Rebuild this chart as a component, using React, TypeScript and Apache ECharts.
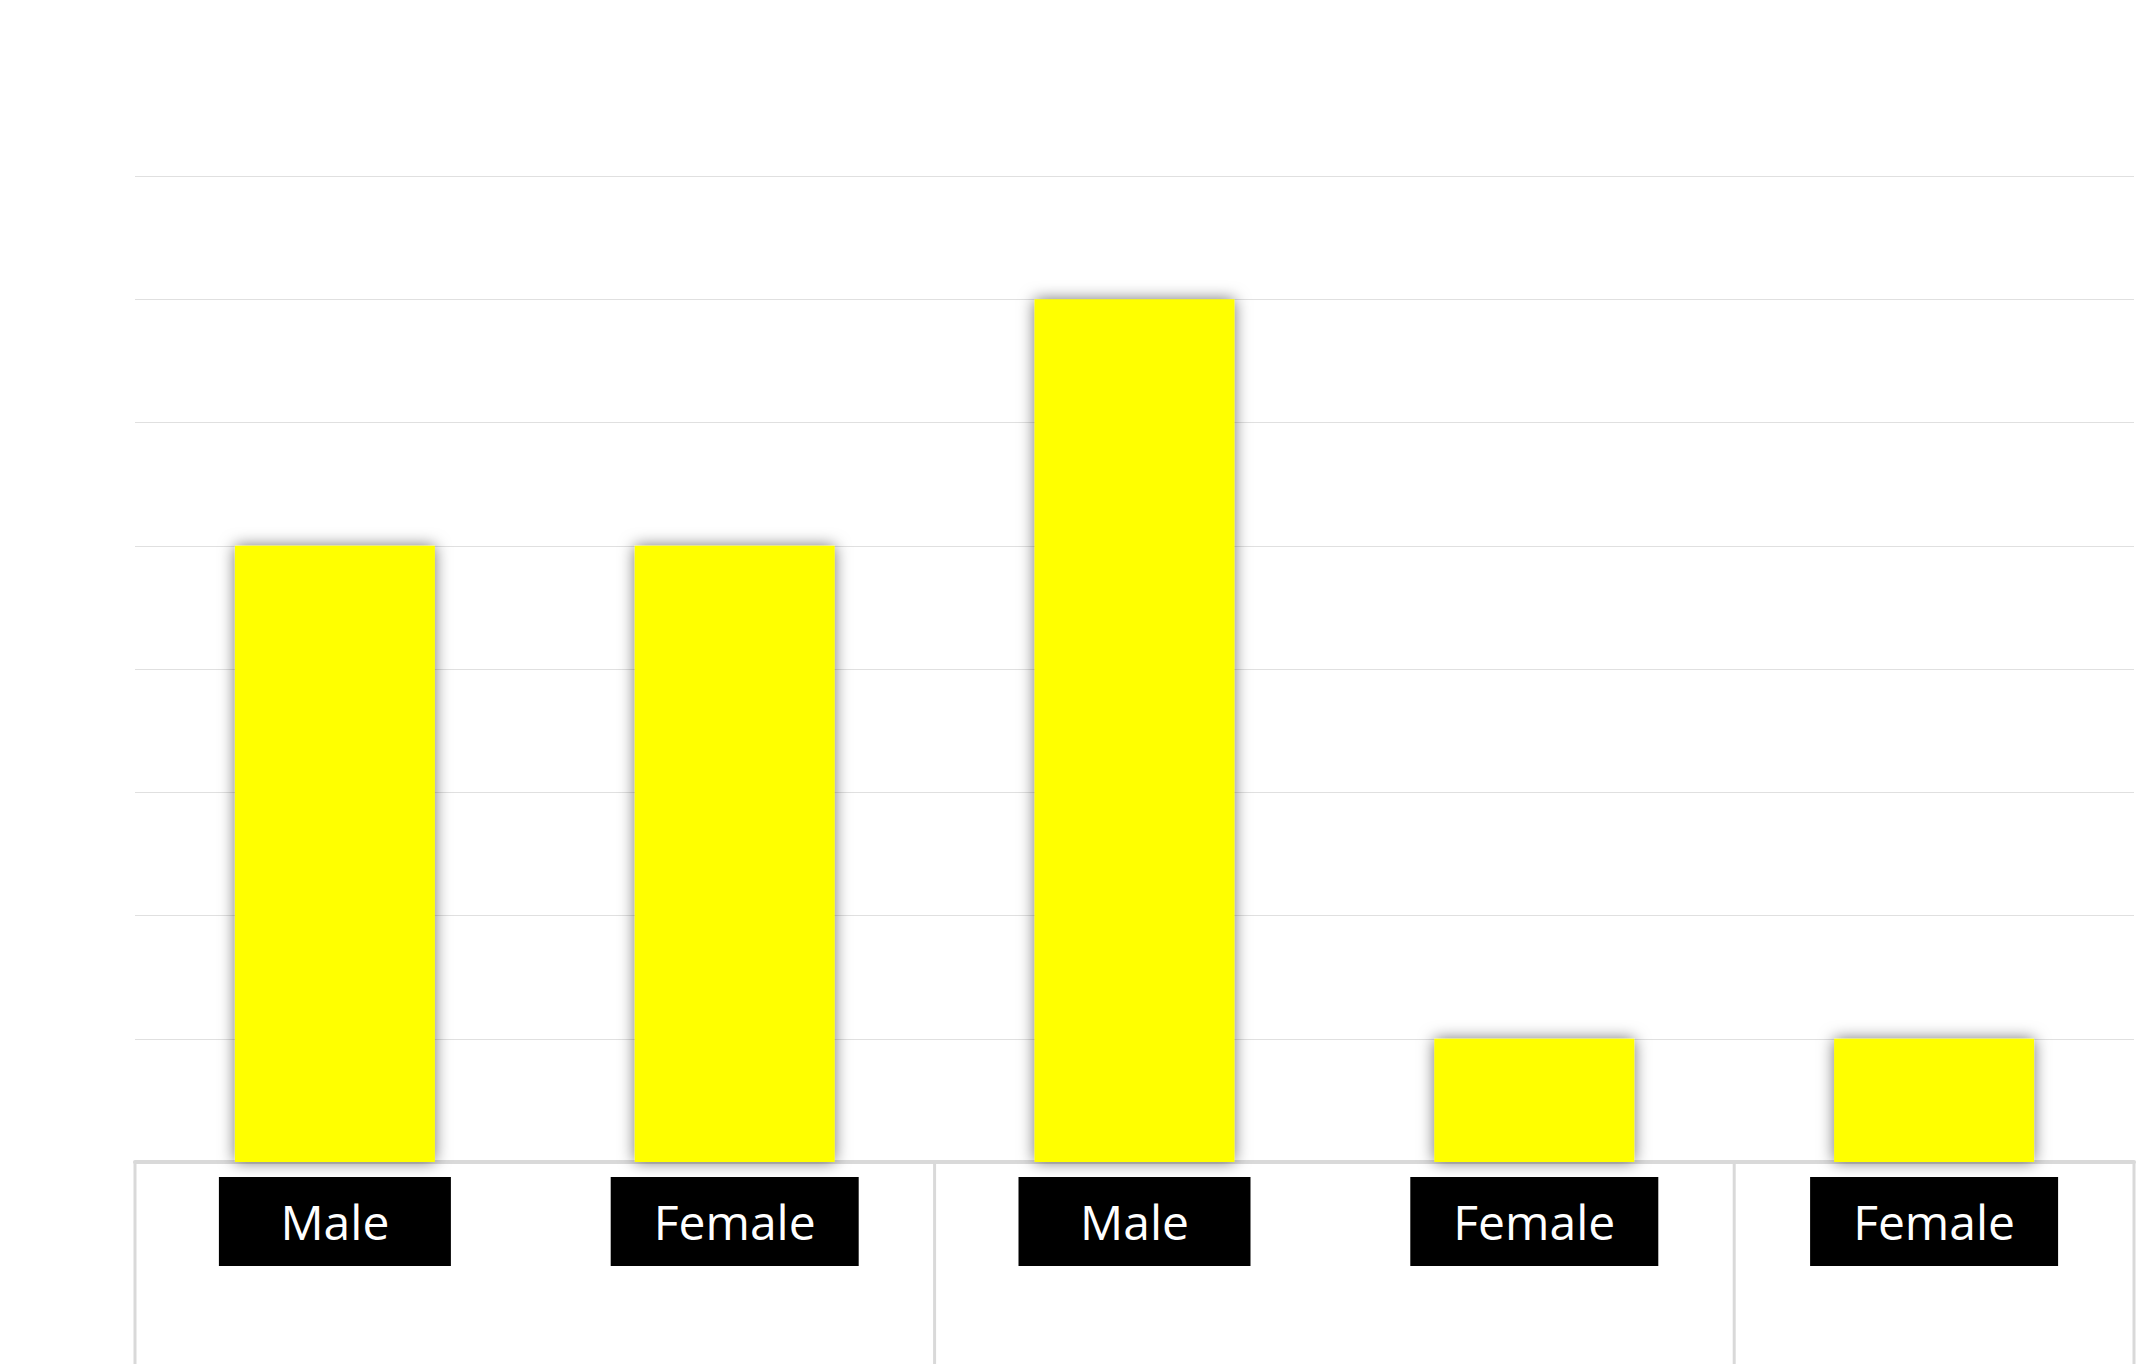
import React, { useEffect, useRef } from "react";
import * as echarts from "echarts";

const categories = ["Male", "Female", "Male", "Female", "Female"];
const values = [5, 5, 7, 1, 1];
const groupSizes = [2, 2, 1];
const yMax = 8;
const yInterval = 1;

export default function App() {
  const ref = useRef<HTMLDivElement>(null);
  useEffect(() => {
    document.body.style.margin = "0";
    const el = ref.current!;
    const chart = echarts.init(el, null, { renderer: "svg" });
    const option: any = {
      animation: false,
      backgroundColor: "#ffffff",
      grid: { left: 135, right: 7, top: 176, bottom: 202, containLabel: false },
      xAxis: {
        type: "category",
        data: categories,
        axisLine: { show: true, lineStyle: { color: "#d9d9d9", width: 4 } },
        axisTick: { show: false },
        axisLabel: {
          interval: 0,
          margin: 15,
          formatter: (v: string) => (v === "Male" ? `{m|${v}}` : `{f|${v}}`),
          rich: {
            m: {
              width: 232,
              height: 89,
              lineHeight: 89,
              align: "center",
              backgroundColor: "#000000",
              color: "#ffffff",
              fontSize: 48,
              fontFamily: "Open Sans",
            },
            f: {
              width: 248,
              height: 89,
              lineHeight: 89,
              align: "center",
              backgroundColor: "#000000",
              color: "#ffffff",
              fontSize: 48,
              fontFamily: "Open Sans",
            },
          },
        },
      },
      yAxis: {
        type: "value",
        min: 0,
        max: yMax,
        interval: yInterval,
        axisLabel: { show: false },
        axisLine: { show: false },
        axisTick: { show: false },
        splitLine: { show: true, lineStyle: { color: "#e0e0e0", width: 1 } },
      },
      series: [
        {
          type: "bar",
          data: values,
          barWidth: "50%",
          itemStyle: {
            color: "#ffff00",
            shadowBlur: 16,
            shadowColor: "rgba(0,0,0,0.55)",
            shadowOffsetX: 0,
            shadowOffsetY: 0,
          },
        },
      ],
    };
    chart.setOption(option);

    // group separators via the axis scale
    const px = (i: number) => chart.convertToPixel({ xAxisIndex: 0 }, i) as number;
    const baseY = chart.convertToPixel({ yAxisIndex: 0 }, 0) as number;
    const band = px(1) - px(0);
    const bounds: number[] = [px(0) - band / 2];
    let idx = 0;
    groupSizes.forEach((s) => {
      idx += s;
      bounds.push(px(idx - 1) + band / 2);
    });
    const graphics = bounds.map((x) => ({
      type: "line",
      shape: { x1: x, y1: baseY, x2: x, y2: 1364 },
      style: { stroke: "#d9d9d9", lineWidth: 3 },
      z: 10,
    }));
    chart.setOption({ graphic: graphics });

    return () => chart.dispose();
  }, []);
  return <div ref={ref} style={{ width: 2141, height: 1364 }} />;
}
